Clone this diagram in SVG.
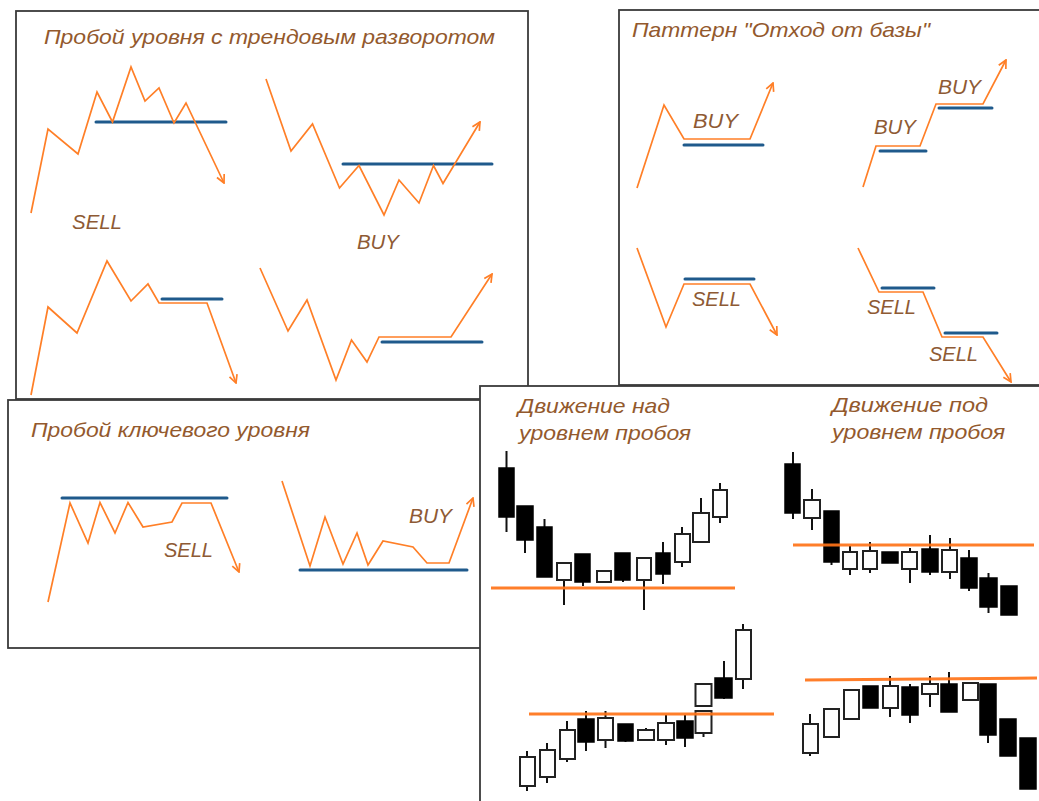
<svg xmlns="http://www.w3.org/2000/svg" width="1039" height="801" viewBox="0 0 1039 801">
<style>
.panel{fill:#fff;stroke:#3a3a3a;stroke-width:1.8}
.title{font-family:"Liberation Sans",Arial,sans-serif;font-style:italic;font-size:21px;fill:#93592d}
.lbl{font-family:"Liberation Sans",Arial,sans-serif;font-style:italic;font-size:20px;fill:#8e5a34}
.price{fill:none;stroke:#ff7f27;stroke-width:1.7;stroke-linejoin:miter}
.arrow{marker-end:url(#ah)}
.lvl{stroke:#1f5a8c;stroke-width:3;stroke-linecap:round}
.brk{stroke:#ff7418;stroke-width:3;opacity:0.92}
.wick{stroke:#111;stroke-width:2}
.bull{fill:#fff;stroke:#222;stroke-width:2}
.bear{fill:#000;stroke:#000;stroke-width:1.5}
</style>
<defs>
<marker id="ah" viewBox="0 0 10 10" refX="9" refY="5" markerWidth="10" markerHeight="10" markerUnits="userSpaceOnUse" orient="auto">
<path d="M1,1 L9,5 L1,9" fill="none" stroke="#ff7f27" stroke-width="1.7"/>
</marker>
</defs>
<rect width="1039" height="801" fill="#fff"/>

<g id="panel-trend-reversal">
<rect class="panel" x="16" y="11" width="512" height="388"/>
<text class="title" x="44" y="44" textLength="451" lengthAdjust="spacingAndGlyphs">Пробой уровня с трендовым разворотом</text>
<line class="lvl" x1="96" y1="122" x2="226" y2="122"/>
<polyline class="price arrow" points="31,213 48,129 78,154 97,92 112.5,122 131,67 145,101 159,88 174,123 186,103 224,183"/>
<text class="lbl" x="72" y="229" textLength="50" lengthAdjust="spacingAndGlyphs">SELL</text>
<line class="lvl" x1="343" y1="164" x2="492" y2="164"/>
<polyline class="price arrow" points="266,79 291,151 312.5,124 339.5,188 359,165.5 384,215 399,180 419,203 433.5,165.5 443,183.5 480,122"/>
<text class="lbl" x="357" y="249" textLength="42" lengthAdjust="spacingAndGlyphs">BUY</text>
<line class="lvl" x1="162" y1="299" x2="222" y2="299"/>
<polyline class="price arrow" points="31,395 48,307 77,333 107,261 131,301 148,284 159,303 207,303 236,383"/>
<line class="lvl" x1="382" y1="342" x2="482" y2="342"/>
<polyline class="price arrow" points="260,268 288,331 307,300 336,380 351.5,340 367,362 379,337 451,337 492,274"/>
</g>

<g id="panel-base">
<rect class="panel" x="619" y="10" width="430" height="375"/>
<text class="title" x="632" y="37" textLength="298" lengthAdjust="spacingAndGlyphs">Паттерн "Отход от базы"</text>
<line class="lvl" x1="684" y1="145" x2="763" y2="145"/>
<polyline class="price arrow" points="637,188 664,105 684,139 750,139 773,83"/>
<text class="lbl" x="693" y="128" textLength="45" lengthAdjust="spacingAndGlyphs">BUY</text>
<line class="lvl" x1="880" y1="151" x2="926" y2="151"/>
<line class="lvl" x1="939" y1="108" x2="992" y2="108"/>
<polyline class="price arrow" points="863,187 876,146 920,146 936,104 983,104 1006,60"/>
<text class="lbl" x="874" y="134" textLength="42" lengthAdjust="spacingAndGlyphs">BUY</text>
<text class="lbl" x="938" y="94" textLength="43" lengthAdjust="spacingAndGlyphs">BUY</text>
<line class="lvl" x1="685" y1="279" x2="754" y2="279"/>
<polyline class="price arrow" points="637,248 666,327 684,284 750,284 777,335"/>
<text class="lbl" x="692" y="306" textLength="49" lengthAdjust="spacingAndGlyphs">SELL</text>
<line class="lvl" x1="882" y1="288" x2="934" y2="288"/>
<line class="lvl" x1="945" y1="333" x2="997" y2="333"/>
<polyline class="price arrow" points="858,248 879,292 923,292 942,337 983,337 1011,382"/>
<text class="lbl" x="867" y="314" textLength="49" lengthAdjust="spacingAndGlyphs">SELL</text>
<text class="lbl" x="929" y="361" textLength="49" lengthAdjust="spacingAndGlyphs">SELL</text>
</g>

<g id="panel-key-level">
<rect class="panel" x="8" y="400" width="480" height="248"/>
<text class="title" x="31" y="437" textLength="279" lengthAdjust="spacingAndGlyphs">Пробой ключевого уровня</text>
<line class="lvl" x1="62" y1="498" x2="227" y2="498"/>
<polyline class="price arrow" points="48,602 70,503 88,543 100,502.5 115,533 128,502.5 143,527 172,522 182,503 211,503 239,572"/>
<text class="lbl" x="164" y="557" textLength="49" lengthAdjust="spacingAndGlyphs">SELL</text>
<line class="lvl" x1="300" y1="570" x2="467" y2="570"/>
<polyline class="price arrow" points="282,481 310,566 325,517 343,564 357,533 368,565 383,541 413,547 427,563 449,563 473,498"/>
<text class="lbl" x="409" y="523" textLength="43" lengthAdjust="spacingAndGlyphs">BUY</text>
</g>

<g id="panel-candles">
<rect class="panel" x="480" y="386" width="580" height="430"/>
<text class="title" x="518" y="413" textLength="152" lengthAdjust="spacingAndGlyphs">Движение над</text>
<text class="title" x="519" y="440" textLength="172" lengthAdjust="spacingAndGlyphs">уровнем пробоя</text>
<text class="title" x="832" y="412" textLength="156" lengthAdjust="spacingAndGlyphs">Движение под</text>
<text class="title" x="832" y="439" textLength="173" lengthAdjust="spacingAndGlyphs">уровнем пробоя</text>

<g id="chart-above-1">
<line class="wick" x1="506.5" y1="451" x2="506.5" y2="532"/><rect class="bear" x="499" y="468" width="15" height="49"/>
<line class="wick" x1="525" y1="506" x2="525" y2="553"/><rect class="bear" x="517" y="506" width="16" height="34"/>
<line class="wick" x1="544.5" y1="519" x2="544.5" y2="577"/><rect class="bear" x="537" y="527" width="15" height="50"/>
<line class="wick" x1="564" y1="563" x2="564" y2="605"/><rect class="bull" x="557" y="563" width="14" height="17"/>
<line class="wick" x1="583" y1="554" x2="583" y2="586"/><rect class="bear" x="575" y="554" width="15" height="28"/>
<rect class="bull" x="597" y="571" width="14" height="11"/>
<line class="wick" x1="623" y1="553" x2="623" y2="582"/><rect class="bear" x="615" y="553" width="15" height="27"/>
<line class="wick" x1="644" y1="558" x2="644" y2="610"/><rect class="bull" x="637" y="558" width="14" height="22"/>
<line class="wick" x1="663" y1="542" x2="663" y2="584"/><rect class="bear" x="656" y="553" width="14" height="21"/>
<line class="wick" x1="682" y1="527" x2="682" y2="567"/><rect class="bull" x="675" y="534" width="15" height="28"/>
<line class="wick" x1="701" y1="498" x2="701" y2="542"/><rect class="bull" x="693" y="513" width="16" height="29"/>
<line class="wick" x1="720" y1="483" x2="720" y2="523"/><rect class="bull" x="713" y="490" width="14" height="27"/>
<line class="brk" x1="491" y1="588" x2="735" y2="588"/>
</g>

<g id="chart-below-1">
<line class="wick" x1="793" y1="452" x2="793" y2="519"/><rect class="bear" x="785" y="464" width="15" height="49"/>
<line class="wick" x1="812" y1="489" x2="812" y2="530"/><rect class="bull" x="804" y="500" width="16" height="18"/>
<line class="wick" x1="831.5" y1="511" x2="831.5" y2="565"/><rect class="bear" x="824" y="511" width="15" height="51"/>
<line class="wick" x1="850" y1="546" x2="850" y2="575"/><rect class="bull" x="843" y="552" width="14" height="17"/>
<line class="wick" x1="870" y1="542" x2="870" y2="573"/><rect class="bull" x="863" y="551" width="14" height="18"/>
<rect class="bear" x="882" y="552" width="16" height="11"/>
<line class="wick" x1="910" y1="548" x2="910" y2="583"/><rect class="bull" x="902" y="552" width="15" height="17"/>
<line class="wick" x1="930" y1="535" x2="930" y2="575"/><rect class="bear" x="922" y="549" width="16" height="23"/>
<line class="wick" x1="950" y1="538" x2="950" y2="579"/><rect class="bull" x="942" y="550" width="15" height="22"/>
<line class="wick" x1="969" y1="550" x2="969" y2="591"/><rect class="bear" x="961" y="558" width="16" height="30"/>
<line class="wick" x1="988.5" y1="573" x2="988.5" y2="613"/><rect class="bear" x="980" y="578" width="17" height="29"/>
<rect class="bear" x="1001" y="586" width="16" height="29"/>
<line class="brk" x1="793" y1="545" x2="1034" y2="545"/>
</g>

<g id="chart-above-2">
<line class="wick" x1="527" y1="751" x2="527" y2="791"/><rect class="bull" x="520" y="757" width="15" height="29"/>
<line class="wick" x1="547" y1="743" x2="547" y2="783"/><rect class="bull" x="540" y="750" width="15" height="27"/>
<line class="wick" x1="567" y1="721" x2="567" y2="762"/><rect class="bull" x="560" y="730" width="15" height="29"/>
<line class="wick" x1="586" y1="711" x2="586" y2="751"/><rect class="bear" x="578" y="719" width="16" height="23"/>
<line class="wick" x1="605.5" y1="711" x2="605.5" y2="748"/><rect class="bull" x="598" y="718" width="15" height="22"/>
<line class="wick" x1="625.5" y1="724" x2="625.5" y2="742"/><rect class="bear" x="618" y="724" width="15" height="17"/>
<line class="wick" x1="646" y1="728" x2="646" y2="740"/><rect class="bull" x="638" y="730" width="16" height="10"/>
<line class="wick" x1="666" y1="715" x2="666" y2="745"/><rect class="bull" x="658" y="723" width="16" height="17"/>
<line class="wick" x1="685" y1="715" x2="685" y2="747"/><rect class="bear" x="677" y="721" width="16" height="17"/>
<line class="wick" x1="703.5" y1="711" x2="703.5" y2="737"/><rect class="bull" x="695.5" y="711" width="16" height="22"/>
<rect class="bull" x="695.5" y="684" width="16" height="22"/>
<line class="wick" x1="724" y1="661" x2="724" y2="699"/><rect class="bear" x="715" y="678" width="17" height="20"/>
<line class="wick" x1="743" y1="624" x2="743" y2="689"/><rect class="bull" x="736" y="630" width="15" height="49"/>
<line class="brk" x1="529" y1="714" x2="774" y2="714"/>
</g>

<g id="chart-below-2">
<line class="wick" x1="810" y1="714" x2="810" y2="756"/><rect class="bull" x="803" y="724" width="15" height="29"/>
<rect class="bull" x="824" y="709" width="15" height="28"/>
<rect class="bull" x="844" y="690" width="15" height="29"/>
<rect class="bear" x="863" y="686" width="15" height="22"/>
<line class="wick" x1="890" y1="676" x2="890" y2="717"/><rect class="bull" x="883" y="686" width="15" height="22"/>
<line class="wick" x1="910" y1="684" x2="910" y2="723"/><rect class="bear" x="902" y="687" width="16" height="28"/>
<line class="wick" x1="930" y1="676" x2="930" y2="707"/><rect class="bull" x="922" y="684" width="16" height="10"/>
<line class="wick" x1="949" y1="672" x2="949" y2="712"/><rect class="bear" x="941" y="684" width="16" height="28"/>
<rect class="bull" x="963" y="683" width="15" height="17"/>
<line class="wick" x1="988" y1="684" x2="988" y2="743"/><rect class="bear" x="980" y="684" width="16" height="51"/>
<rect class="bear" x="1000" y="719" width="16" height="37"/>
<rect class="bear" x="1020" y="738" width="16" height="51"/>
<line class="brk" x1="805" y1="680" x2="1037" y2="678"/>
</g>
</g>
</svg>
